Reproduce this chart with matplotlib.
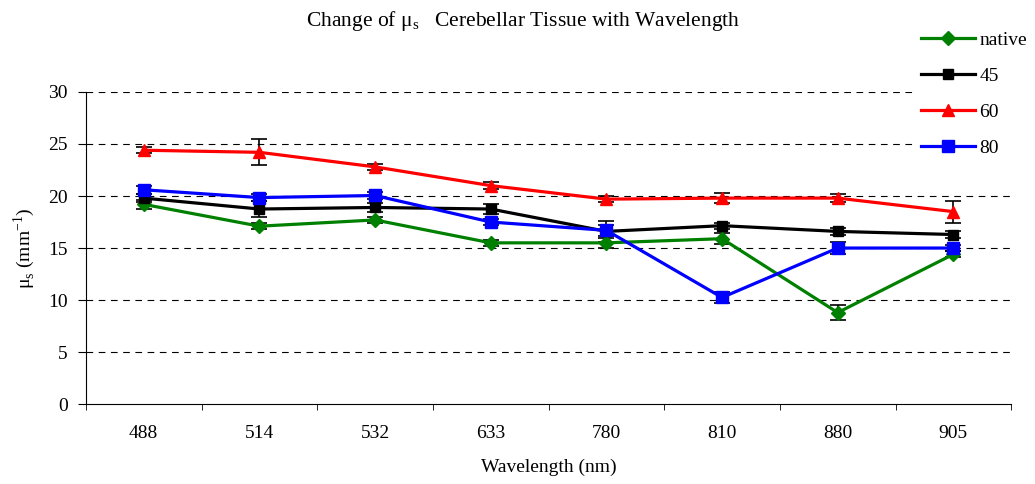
import numpy as np
import matplotlib.pyplot as plt

plt.rcParams['font.family'] = ['Liberation Serif', 'DejaVu Serif']

wavelengths = ['488', '514', '532', '633', '780', '810', '880', '905']

native = [19.2, 17.1, 17.7, 15.5, 15.5, 15.9, 8.8, 14.4]
s45 = [19.8, 18.75, 18.9, 18.75, 16.6, 17.15, 16.6, 16.3]
s60 = [24.4, 24.2, 22.8, 21.0, 19.7, 19.8, 19.8, 18.5]
s80 = [20.6, 19.85, 20.05, 17.5, 16.7, 10.25, 15.0, 15.0]

err_native = [0.4, 0.3, 0.3, 0.3, 0.5, 0.5, 0.7, 0.3]
err45 = [0.4, 0.8, 0.4, 0.5, 1.0, 0.3, 0.3, 0.3]
err60 = [0.3, 1.25, 0.3, 0.3, 0.3, 0.5, 0.4, 1.05]
err80 = [0.4, 0.3, 0.3, 0.3, 0.5, 0.5, 0.6, 0.3]

x = np.arange(len(wavelengths))

fig = plt.figure(figsize=(10.35, 4.84), dpi=100)
ax = fig.add_axes([0.083, 0.165, 0.894, 0.645])

series = [
    ('native', native, err_native, 'green', 'D', 7),
    ('45', s45, err45, 'black', 's', 7),
    ('60', s60, err60, 'red', '^', 9),
    ('80', s80, err80, 'blue', 's', 8),
]
for name, vals, err, col, mk, ms in series:
    ax.errorbar(x, vals, yerr=err, fmt='none', ecolor='black', elinewidth=1.2,
                capsize=6, capthick=1.2, zorder=2)
    ax.plot(x, vals, color=col, marker=mk, markersize=ms, linewidth=2.3,
            label=name, zorder=3)

ax.set_xlim(-0.5, len(wavelengths) - 0.5)
ax.set_ylim(0, 30)
ax.set_yticks(range(0, 31, 5))
ax.set_xticks(x)
ax.set_xticklabels(wavelengths)
ax.set_xticks(np.arange(-0.5, len(wavelengths), 1), minor=True)
ax.tick_params(axis='x', which='major', length=0, pad=15, labelsize=14)
ax.tick_params(axis='x', which='minor', length=4, direction='out')
ax.tick_params(axis='y', length=6, direction='out', labelsize=14, pad=7)
for yv in range(5, 31, 5):
    ax.axhline(yv, color='black', linestyle=(0, (6, 5)), linewidth=0.8, zorder=1)
ax.spines['top'].set_visible(False)
ax.spines['right'].set_visible(False)

ax.set_xlabel('Wavelength (nm)', fontsize=14, labelpad=12)
ax.set_ylabel('μ$_\\mathregular{s}$ (mm$^\\mathregular{-1}$)', fontsize=14, labelpad=8)
fig.text(0.505, 0.957, 'Change of μ$_\\mathregular{s}$   Cerebellar Tissue with Wavelength',
         ha='center', va='center', fontsize=15.5)

# white legend box hides the gridlines behind it, like the original
leg = fig.legend(loc='upper left', bbox_to_anchor=(0.873, 0.972), frameon=True,
                 fancybox=False, edgecolor='none', facecolor='white', framealpha=1,
                 fontsize=14, handlelength=2.8, handletextpad=0.2, labelspacing=0.95)

fig.savefig('out.png', dpi=100)
